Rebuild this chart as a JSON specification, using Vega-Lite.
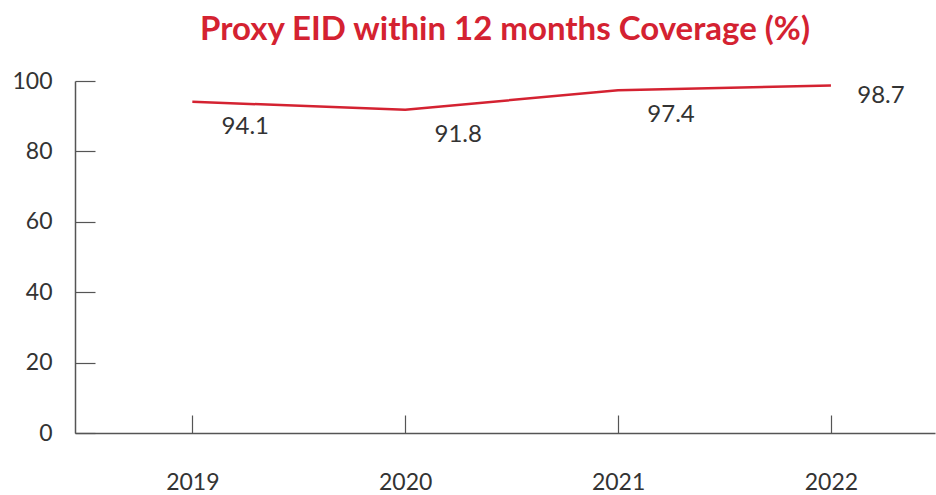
{
  "$schema": "https://vega.github.io/schema/vega-lite/v6.json",
  "autosize": "none",
  "width": 860,
  "height": 352,
  "padding": {"left": 75, "top": 81, "right": 1, "bottom": 62},
  "background": "white",
  "title": {
    "text": "Proxy EID within 12 months Coverage (%)",
    "color": "#d42231",
    "font": "Lato",
    "fontWeight": "bold",
    "fontSize": 33,
    "anchor": "middle",
    "frame": "group",
    "offset": 23
  },
  "data": {
    "values": [
      {"year": "2019", "coverage": 94.1},
      {"year": "2020", "coverage": 91.8},
      {"year": "2021", "coverage": 97.4},
      {"year": "2022", "coverage": 98.7}
    ]
  },
  "encoding": {
    "x": {
      "field": "year",
      "type": "ordinal",
      "scale": {"type": "point", "padding": 0.52, "align": 0.53},
      "axis": {
        "title": null,
        "labelAngle": 0,
        "labelFont": "Lato",
        "labelFontSize": 23,
        "labelColor": "#333333",
        "domainColor": "#555555",
        "domainWidth": 1.5,
        "tickColor": "#555555",
        "tickWidth": 1.2,
        "tickSize": -18,
        "labelPadding": 56,
        "grid": false
      }
    },
    "y": {
      "field": "coverage",
      "type": "quantitative",
      "scale": {"domain": [0, 100], "nice": false},
      "axis": {
        "title": null,
        "values": [0, 20, 40, 60, 80, 100],
        "labelFont": "Lato",
        "labelFontSize": 23,
        "labelColor": "#333333",
        "domainColor": "#555555",
        "domainWidth": 1.5,
        "tickColor": "#555555",
        "tickWidth": 1.2,
        "tickSize": -20,
        "labelPadding": 43,
        "grid": false
      }
    }
  },
  "layer": [
    {
      "mark": {"type": "line", "color": "#d42231", "strokeWidth": 2.5}
    },
    {
      "transform": [{"filter": "datum.year != '2022'"}],
      "mark": {
        "type": "text",
        "font": "Lato",
        "fontSize": 24,
        "color": "#333333",
        "align": "center",
        "baseline": "middle",
        "dx": 53,
        "dy": 25
      },
      "encoding": {"text": {"field": "coverage", "type": "quantitative", "format": ".1f"}}
    },
    {
      "transform": [{"filter": "datum.year == '2022'"}],
      "mark": {
        "type": "text",
        "font": "Lato",
        "fontSize": 24,
        "color": "#333333",
        "align": "center",
        "baseline": "middle",
        "dx": 50,
        "dy": 10
      },
      "encoding": {"text": {"field": "coverage", "type": "quantitative", "format": ".1f"}}
    }
  ],
  "config": {"view": {"stroke": null}}
}
